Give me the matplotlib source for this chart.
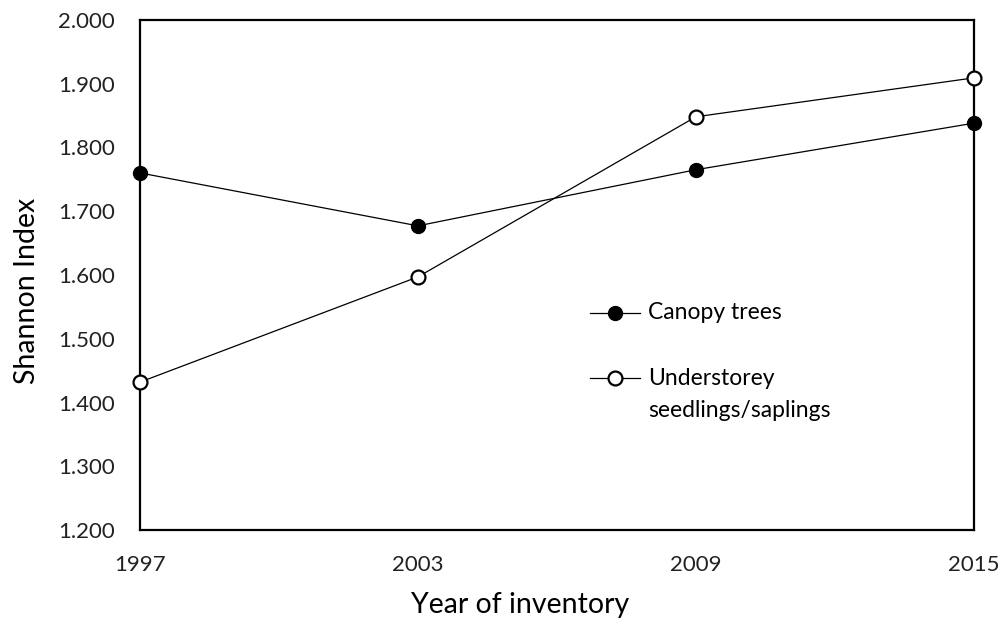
import numpy as np
import matplotlib.pyplot as plt

plt.rcParams['font.family'] = ['Lato', 'DejaVu Sans']

years = [1997, 2003, 2009, 2015]
canopy = [1.760, 1.677, 1.765, 1.838]
understorey = [1.432, 1.597, 1.848, 1.909]
yticks = [1.2, 1.3, 1.4, 1.5, 1.6, 1.7, 1.8, 1.9, 2.0]

fig = plt.figure(figsize=(10.05, 6.2), dpi=100)
ax = fig.add_axes([0.1393, 0.145, 0.8297, 0.823])

ax.plot(years, canopy, '-o', color='black', lw=0.9, ms=10,
        mfc='black', mec='black', clip_on=False, zorder=3)
ax.plot(years, understorey, '-o', color='black', lw=0.9, ms=10,
        mfc='white', mec='black', mew=1.6, clip_on=False, zorder=3)

ax.set_xlim(1997, 2015)
ax.set_ylim(1.2, 2.0)
ax.set_xticks(years)
ax.set_yticks(yticks)
ax.set_yticklabels(['%.3f' % v for v in yticks])
ax.tick_params(length=0, labelsize=16, colors='#222222')
ax.tick_params(axis='y', pad=18)
ax.tick_params(axis='x', pad=18)
for s in ax.spines.values():
    s.set_linewidth(1.6)

ax.set_ylabel('Shannon Index', fontsize=20.5)
ax.set_xlabel('Year of inventory', fontsize=20.5)
ax.yaxis.set_label_coords(-0.12, 0.469)
ax.xaxis.set_label_coords(0.456, -0.122)

# legend, drawn by hand so the marker sits on the first text line
tr = ax.transAxes
ax.plot([0.540, 0.600], [0.4255, 0.4255], color='black', lw=0.9, transform=tr)
ax.plot([0.5695], [0.4255], 'o', color='black', ms=10, transform=tr)
ax.text(0.609, 0.4255, 'Canopy trees', transform=tr, fontsize=16.5,
        va='center', ha='left')
ax.plot([0.540, 0.600], [0.298, 0.298], color='black', lw=0.9, transform=tr)
ax.plot([0.5695], [0.298], 'o', mfc='white', mec='black', mew=1.6, ms=10,
        transform=tr)
ax.text(0.609, 0.298, 'Understorey', transform=tr, fontsize=16.5,
        va='center', ha='left')
ax.text(0.609, 0.235, 'seedlings/saplings', transform=tr, fontsize=16.5,
        va='center', ha='left')

fig.savefig('out.png', dpi=100)
